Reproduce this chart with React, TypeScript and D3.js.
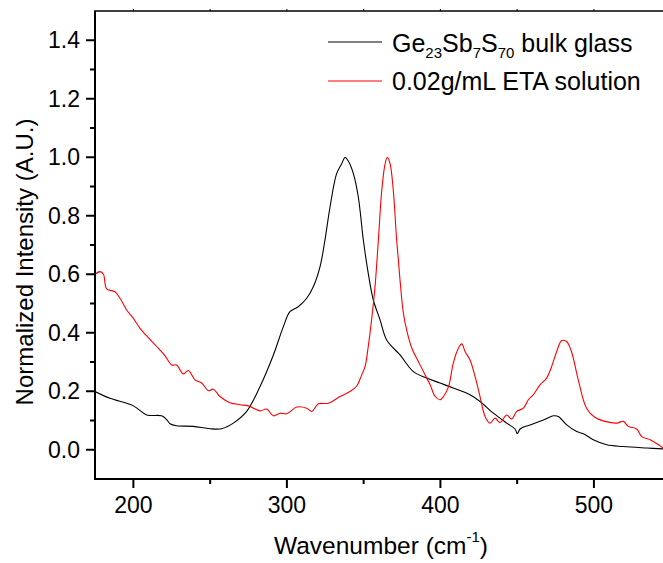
import React from "react";
import * as d3 from "d3";

const xTicks = [200, 300, 400, 500];
const xMinor = [250, 350, 450];
const yTicks = [0.0, 0.2, 0.4, 0.6, 0.8, 1.0, 1.2, 1.4];
const yMinor = [0.1, 0.3, 0.5, 0.7, 0.9, 1.1, 1.3];

const glassX = [175, 184.8, 200, 208.7, 218.4, 221.5, 223.9, 228, 239, 249.9, 257.5, 265.1, 273.8, 282.5, 291.2, 297.7, 302, 307.4, 312.9, 317.2, 321.6, 324.8, 328.1, 332.4, 335.7, 337.9, 340, 343.3, 346.5, 349.8, 353, 356.3, 360.7, 365, 373.7, 382.4, 391.1, 399.8, 408.4, 419.3, 425.8, 434.5, 443.2, 448.6, 450.1, 451.9, 458.4, 467.1, 473.6, 476.8, 482.3, 488.8, 493.1, 499.6, 508.3, 519.2, 534.4, 545];
const glassY = [0.199, 0.176, 0.15, 0.119, 0.116, 0.104, 0.089, 0.082, 0.08, 0.072, 0.072, 0.091, 0.131, 0.216, 0.324, 0.421, 0.472, 0.489, 0.518, 0.557, 0.626, 0.717, 0.83, 0.944, 0.978, 0.999, 0.987, 0.944, 0.865, 0.717, 0.603, 0.512, 0.444, 0.375, 0.324, 0.267, 0.245, 0.228, 0.211, 0.188, 0.165, 0.125, 0.091, 0.071, 0.055, 0.071, 0.085, 0.102, 0.116, 0.114, 0.085, 0.062, 0.055, 0.034, 0.017, 0.011, 0.006, 0.003];

const etaX = [175, 178.3, 180.5, 182.6, 188, 191.3, 195.6, 200, 204.3, 208.7, 215.2, 220.6, 225, 228.2, 232.5, 235.8, 240.1, 244.5, 248.8, 252.1, 256.4, 262.9, 269.5, 274.9, 282.5, 286.8, 291.2, 295.5, 299.9, 306.4, 312.9, 316.2, 320.5, 327, 334.6, 341.1, 345.5, 348.7, 350.9, 353, 355.3, 357.4, 359.6, 361.8, 364, 365.4, 367.2, 369.3, 371.5, 373.7, 375.8, 378, 381.4, 385.7, 390, 393.3, 396.6, 399.8, 402, 405.3, 408.4, 411.7, 413.9, 416.1, 419.3, 422.6, 425.8, 429.1, 432.3, 435.6, 438.8, 443.2, 446.4, 449.7, 454, 457.3, 460.5, 464.9, 469.2, 472.4, 475.7, 478.9, 482.2, 485.4, 489.8, 495.2, 500.6, 507.2, 514.8, 519.2, 522.4, 527.9, 531.1, 536.6, 542, 545];
const etaY = [0.6, 0.609, 0.6, 0.55, 0.54, 0.518, 0.478, 0.449, 0.415, 0.389, 0.353, 0.321, 0.29, 0.29, 0.259, 0.271, 0.239, 0.228, 0.202, 0.207, 0.182, 0.161, 0.154, 0.15, 0.133, 0.139, 0.116, 0.125, 0.123, 0.146, 0.142, 0.131, 0.157, 0.159, 0.182, 0.199, 0.218, 0.256, 0.284, 0.353, 0.45, 0.557, 0.717, 0.887, 0.978, 1.0, 0.978, 0.887, 0.717, 0.58, 0.47, 0.41, 0.347, 0.301, 0.256, 0.222, 0.182, 0.171, 0.182, 0.216, 0.296, 0.347, 0.362, 0.335, 0.307, 0.25, 0.182, 0.114, 0.091, 0.108, 0.093, 0.119, 0.105, 0.131, 0.142, 0.171, 0.188, 0.222, 0.245, 0.284, 0.335, 0.373, 0.37, 0.335, 0.239, 0.142, 0.111, 0.097, 0.091, 0.097, 0.08, 0.071, 0.045, 0.034, 0.017, 0.006];

const W = 663;
const H = 563;
const L = 95;
const R = 663;
const T = 11;
const B = 479;
const FONT = "'Liberation Sans', Arial, sans-serif";

export default function App() {
  const x = d3.scaleLinear().domain([175, 545]).range([L, R]);
  const y = d3.scaleLinear().domain([-0.1, 1.5]).range([B, T]);
  const line = d3
    .line<[number, number]>()
    .x((d) => x(d[0]))
    .y((d) => y(d[1]))
    .curve(d3.curveCatmullRom.alpha(0.5));
  const glass = glassX.map((v, i) => [v, glassY[i]] as [number, number]);
  const eta = etaX.map((v, i) => [v, etaY[i]] as [number, number]);

  return (
    <svg
      width={W}
      height={H}
      style={{ position: "absolute", left: 0, top: 0, background: "#fff" }}
      fontFamily={FONT}
    >
      <rect x={0} y={0} width={W} height={H} fill="#fff" />
      <defs>
        <clipPath id="plotclip">
          <rect x={L} y={T} width={R - L} height={B - T} />
        </clipPath>
      </defs>
      <g clipPath="url(#plotclip)" fill="none">
        <path d={line(glass) || ""} stroke="#000" strokeWidth={1.1} />
        <path d={line(eta) || ""} stroke="#ff0000" strokeWidth={1.1} />
      </g>
      {/* frame */}
      <line x1={L} x2={L} y1={T} y2={B + 1} stroke="#000" strokeWidth={2} />
      <line x1={L - 1} x2={R} y1={B} y2={B} stroke="#000" strokeWidth={2} />
      <line x1={L - 1} x2={R} y1={T} y2={T} stroke="#000" strokeWidth={1.5} />
      {/* x ticks */}
      {xTicks.map((t) => (
        <g key={"xt" + t}>
          <line x1={x(t)} x2={x(t)} y1={B} y2={B + 9} stroke="#000" strokeWidth={2} />
          <line x1={x(t)} x2={x(t)} y1={T} y2={T - 2} stroke="#000" strokeWidth={1} />
          <text x={x(t)} y={B + 34} fontSize={23} textAnchor="middle" fill="#000">
            {t}
          </text>
        </g>
      ))}
      {xMinor.map((t) => (
        <g key={"xm" + t}>
          <line x1={x(t)} x2={x(t)} y1={B} y2={B + 5} stroke="#000" strokeWidth={2} />
          <line x1={x(t)} x2={x(t)} y1={T} y2={T - 2} stroke="#000" strokeWidth={1} />
        </g>
      ))}
      {/* y ticks */}
      {yTicks.map((t) => (
        <g key={"yt" + t}>
          <line x1={L - 9} x2={L} y1={y(t)} y2={y(t)} stroke="#000" strokeWidth={2} />
          <text x={L - 15} y={y(t) + 8} fontSize={23} textAnchor="end" fill="#000">
            {t.toFixed(1)}
          </text>
        </g>
      ))}
      {yMinor.map((t) => (
        <line key={"ym" + t} x1={L - 5} x2={L} y1={y(t)} y2={y(t)} stroke="#000" strokeWidth={2} />
      ))}
      {/* axis titles */}
      <text
        transform={`translate(33, 262) rotate(-90)`}
        fontSize={24}
        textAnchor="middle"
        fill="#000"
      >
        Normalized Intensity (A.U.)
      </text>
      <text x={381} y={554} fontSize={24.5} textAnchor="middle" fill="#000">
        Wavenumber (cm
        <tspan fontSize={15} dy={-12}>-1</tspan>
        <tspan dy={12}>)</tspan>
      </text>
      {/* legend */}
      <line x1={328} x2={382} y1={42} y2={42} stroke="#000" strokeWidth={1.1} />
      <text x={392} y={52} fontSize={25} fill="#000">
        Ge<tspan fontSize={15} dy={6}>23</tspan>
        <tspan dy={-6}>Sb</tspan>
        <tspan fontSize={15} dy={6}>7</tspan>
        <tspan dy={-6}>S</tspan>
        <tspan fontSize={15} dy={6}>70</tspan>
        <tspan dy={-6}> bulk glass</tspan>
      </text>
      <line x1={328} x2={382} y1={81} y2={81} stroke="#ff0000" strokeWidth={1.1} />
      <text x={392} y={90} fontSize={25} fill="#000">
        0.02g/mL ETA solution
      </text>
    </svg>
  );
}
